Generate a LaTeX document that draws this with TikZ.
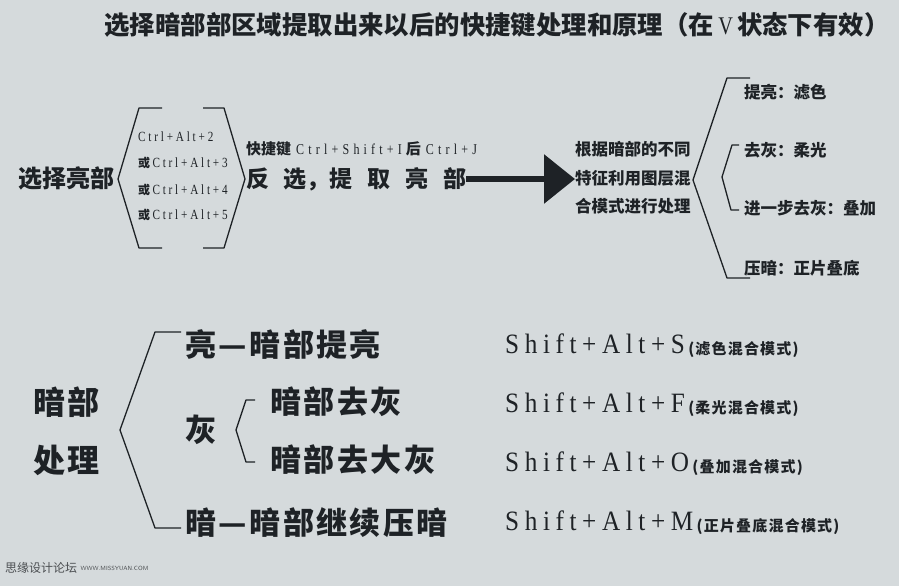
\documentclass[tikz,border=0pt]{standalone}
\usepackage{fontspec}
\usetikzlibrary{arrows.meta,positioning}
\newfontfamily\cjk{Noto Sans CJK SC}
\newfontfamily\cjkw{Noto Sans CJK SC}[LetterSpace=8]
\newfontfamily\keyfont{Liberation Serif}[FakeStretch=0.9, LetterSpace=20]
\newfontfamily\keysmall{Liberation Serif}[FakeStretch=0.8, LetterSpace=20]
\newfontfamily\keymid{Liberation Serif}[FakeStretch=0.8, LetterSpace=28]

\definecolor{bg}{HTML}{D5DADC}
\definecolor{ink}{HTML}{1E2226}

\tikzset{
    cn/.style={font=\cjk\bfseries, text=ink, inner sep=0pt, anchor=west},
    cnbig/.style={font=\cjkw\bfseries\fontsize{31}{31}\selectfont, text=ink, inner sep=0pt, anchor=west},
    keybig/.style={font=\keyfont\fontsize{28}{28}\selectfont, text=ink, inner sep=0pt},
    keyline/.style={font=\fontsize{14}{14}\selectfont, text=ink, inner sep=0pt, anchor=west},
    bracket/.style={draw=ink, line width=1.3pt, line join=round},
}

\begin{document}
\begin{tikzpicture}[x=1pt,y=-1pt]
    % canvas
    \fill[bg] (0,0) rectangle (899,586);
    \useasboundingbox (0,0) rectangle (899,586);
    % title
    \node[cn, anchor=center, font=\cjk\bfseries\fontsize{25.4}{25.4}\selectfont] (title) at (497,25)
        {选择暗部部区域提取出来以后的快捷键处理和原理（在\,{\keysmall\mdseries V}\,状态下有效）};
    %
    % ---- upper part: selecting the lights ----
    \node[cn, font=\cjk\bfseries\fontsize{24}{24}\selectfont] (select) at (18,178) {选择亮部};
    \draw[bracket] (162,108) -- (139,108) -- (118,179) -- (139,248) -- (162,248);
    \draw[bracket] (203,108) -- (224,108) -- (245,179) -- (224,248) -- (203,248);
    \node[keyline] (ctrl2) at (138,137) {\keysmall Ctrl+Alt+2};
    \foreach \n/\y in {3/163, 4/190, 5/215}
        \node[keyline] (ctrl\n) at (138,\y) {{\cjk\bfseries\fontsize{12}{12}\selectfont 或}\,\keysmall Ctrl+Alt+\n};
    \node[cn, font=\fontsize{15}{15}\selectfont] (shortcut) at (246,149)
        {{\cjk\bfseries 快捷键}\hspace{5pt}{\keymid Ctrl+Shift+I}\hspace{4pt}{\cjk\bfseries 后}\hspace{5pt}{\keymid Ctrl+J}};
    \node[cn, font=\cjk\bfseries\fontsize{23}{23}\selectfont] (invert) at (246,179)
        {反\hspace{14pt}选，提\hspace{15pt}取\hspace{15pt}亮\hspace{15pt}部};
    \node[cn, align=left, font=\cjk\bfseries\fontsize{16.5}{28.5}\selectfont] (blend) at (575,178)
        {根据暗部的不同\\特征利用图层混\\合模式进行处理};
    \draw[ink, line width=6pt, -{Triangle[length=31pt,width=48pt]}]
        (invert.east) -- (invert.east -| blend.west);
    % blending modes
    \draw[bracket] (750,78) -- (727,78) -- (693,180) -- (727,278) -- (750,278);
    \draw[bracket] (739,145) -- (732,145) -- (722,177) -- (731,210) -- (739,210);
    \foreach \t/\y [count=\i] in {提亮：滤色/92, 去灰：柔光/150, 进一步去灰：叠加/208, 压暗：正片叠底/268}
        \node[cn, font=\cjk\bfseries\fontsize{16.5}{16.5}\selectfont] (item\i) at (744,\y) {\t};
    %
    % ---- lower part: treating the shadows ----
    \node[cn, align=left, font=\cjkw\bfseries\fontsize{32}{58}\selectfont] (shadow) at (33,431) {暗部\\处理};
    \draw[bracket] (181,332) -- (155,332) -- (120,430) -- (155,528) -- (181,528);
    \draw[bracket] (255,400) -- (246,400) -- (236,430) -- (246,462) -- (255,462);
    \node[cnbig] (light) at (185,345) {亮—暗部提亮};
    \node[cnbig] (grey) at (185,430) {灰};
    \node[cnbig] (grey1) at (270,402) {暗部去灰};
    \node[cnbig] (grey2) at (270,460) {暗部去大灰};
    \node[cnbig] (dark) at (185,523) {暗—暗部继续压暗};
    % shortcut keys
    \foreach \k/\m/\y [count=\i] in {S/滤色/353, F/柔光/412, O/叠加/471, M/正片叠底/530}{
        \node[keybig, anchor=base west] (key\i) at (505,\y) {Shift+Alt+\k};
        \node[cn, anchor=base west, font=\cjkw\bfseries\fontsize{15}{15}\selectfont] (note\i)
            at ([xshift=3pt,yshift=-1pt]key\i.base east) {(\m 混合模式)};
    }
    % footer
    \node[cn, font=\cjk\fontsize{12}{12}\selectfont, text=ink!80] (forum) at (5,568) {思缘设计论坛};
    \node[cn, font=\sffamily\fontsize{6}{6}\selectfont, text=ink!80, right=3pt of forum] (site) {WWW.MISSYUAN.COM};
\end{tikzpicture}
\end{document}
